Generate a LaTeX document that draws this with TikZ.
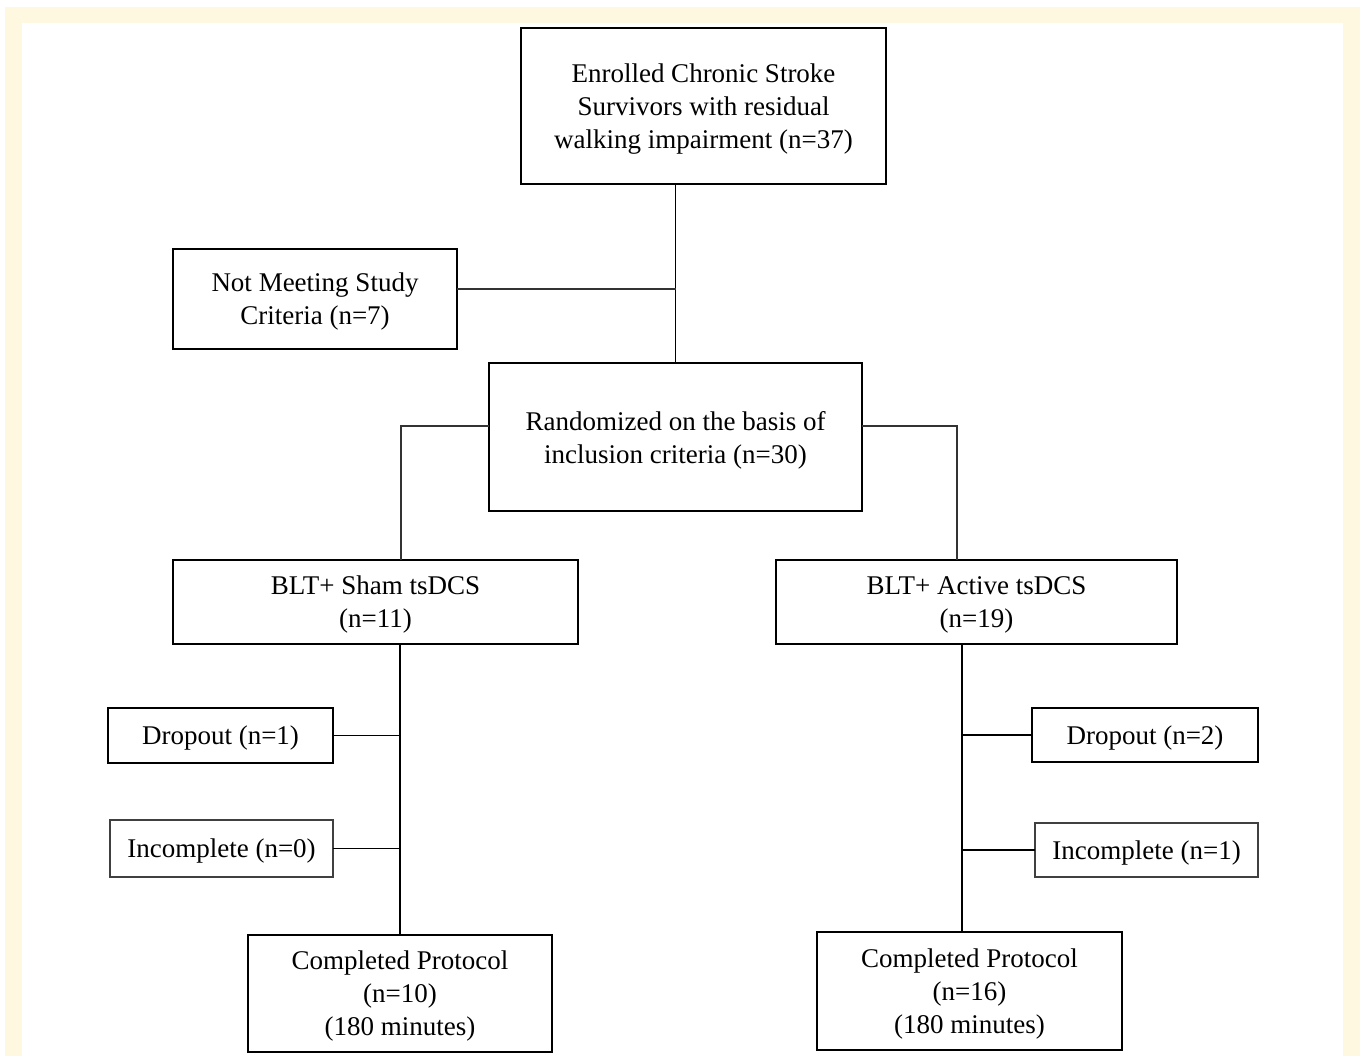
\documentclass[tikz,border=0pt]{standalone}
\usepackage{fontspec}
\setmainfont{Liberation Serif}
\usepackage{tikz}
\usetikzlibrary{positioning,calc}
\definecolor{cream}{RGB}{254,248,224}

\begin{document}
\begin{tikzpicture}[x={(0.5pt,0pt)},y={(0pt,-0.5pt)},
  every node/.style={inner sep=0pt, outer sep=0pt, align=center, text depth=0pt, font=\fontsize{13.5}{16.5}\selectfont},
  box/.style={draw=black, line width=1pt, fill=white},
  thinbox/.style={draw=black!75, line width=0.6pt, fill=white},
  link/.style={draw=black, line width=0.8pt},
  thinlink/.style={draw=black!80, line width=0.6pt}]
% frame
\useasboundingbox (0,0) rectangle (1360,1056);
\fill[white] (0,0) rectangle (1360,1056);
\fill[cream] (5,7) rectangle (1360,1056);
\fill[white] (22,23) rectangle (1343,1056);
% boxes
\node[box, minimum width=182.5pt, minimum height=78pt] (enrolled) at (703.5,106) {Enrolled Chronic Stroke\\Survivors with residual\\walking impairment (n=37)};
\node[box, minimum width=142pt, minimum height=50pt] (notmeet) at (315,299) {Not Meeting Study\\Criteria (n=7)};
\node[box, minimum width=186.5pt, minimum height=74pt] (random) at (675.5,437) {Randomized on the basis of\\inclusion criteria (n=30)};
\node[box, minimum width=202.5pt, minimum height=42pt] (sham) at (375.5,602) {BLT+ Sham tsDCS\\(n=11)};
\node[box, minimum width=200.5pt, minimum height=42pt] (active) at (976.5,602) {BLT+ Active tsDCS\\(n=19)};
\node[box, minimum width=112.5pt, minimum height=27.5pt] (dropL) at (220.5,735.5) {Dropout (n=1)};
\node[thinbox, minimum width=111.5pt, minimum height=28.5pt] (incL) at (221.5,848.5) {Incomplete (n=0)};
\node[box, minimum width=152pt, minimum height=58.5pt] (compL) at (400,993.5) {Completed Protocol\\(n=10)\\(180 minutes)};
\node[box, minimum width=113pt, minimum height=27pt] (dropR) at (1145,735) {Dropout (n=2)};
\node[thinbox, minimum width=111.5pt, minimum height=27pt] (incR) at (1146.5,850) {Incomplete (n=1)};
\node[box, minimum width=152.5pt, minimum height=59pt] (compR) at (969.5,991) {Completed Protocol\\(n=16)\\(180 minutes)};
% connectors
\coordinate (rspine) at ([xshift=-3.75pt]compR.north);
\draw[link] (enrolled.south -| random.north) -- (random.north);
\draw[thinlink] ([yshift=5pt]notmeet.east) -- ([yshift=5pt]notmeet.east -| random.north);
\draw[thinlink] ([yshift=5.5pt]random.west) -| ([xshift=12.75pt]sham.north);
\draw[thinlink] ([yshift=5.5pt]random.east) -| ([xshift=-9.75pt]active.north);
\draw[link] (sham.south -| compL.north) -- (compL.north);
\draw[link] (dropL.east) -- (dropL.east -| compL.north);
\draw[link] (incL.east) -- (incL.east -| compL.north);
\draw[link] (rspine |- active.south) -- (rspine);
\draw[link] (dropR.west) -- (dropR.west -| rspine);
\draw[link] (incR.west) -- (incR.west -| rspine);
\end{tikzpicture}
\end{document}
